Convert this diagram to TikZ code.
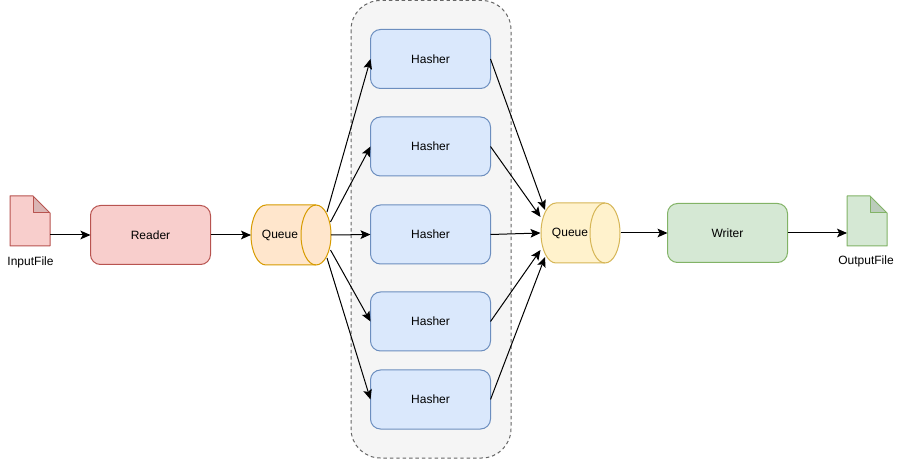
\documentclass[tikz,border=0pt]{standalone}
\usepackage{fontspec}
\setmainfont{Liberation Sans}
\usetikzlibrary{arrows.meta,calc}
\definecolor{redf}{HTML}{F8CECC}\definecolor{redd}{HTML}{B85450}
\definecolor{bluef}{HTML}{DAE8FC}\definecolor{blued}{HTML}{6C8EBF}
\definecolor{orf}{HTML}{FFE6CC}\definecolor{ord}{HTML}{D79B00}
\definecolor{yelf}{HTML}{FFF2CC}\definecolor{yeld}{HTML}{D6B656}
\definecolor{grnf}{HTML}{D5E8D4}\definecolor{grnd}{HTML}{82B366}
\definecolor{grpf}{HTML}{F5F5F5}\definecolor{grpd}{HTML}{666666}
\tikzset{
  x=0.75pt,y=-0.75pt,
  every node/.style={font=\fontsize{9pt}{11pt}\selectfont,text=black,inner sep=0pt,outer sep=0pt},
  box/.style={draw,rounded corners=7.5pt,minimum width=90pt,minimum height=44.25pt,line width=0.75pt},
  hasherbox/.style={box,fill=bluef,draw=blued},
  link/.style={draw=black,line width=0.75pt,-{Stealth[length=7.5pt,width=6.5pt,inset=1.6pt]}},
  hold/.style={minimum width=60pt,minimum height=45pt},
}
\newcommand{\docshape}[3]{% x, fill, stroke
  \fill[#2] (#1,196) -- ++(23,0) -- ++(17,17) -- (#1+40,246) -- (#1,246) -- cycle;
  \fill[#2!88!black] (#1+23,196) -- (#1+23,213) -- (#1+40,213) -- cycle;
  \draw[#3,line width=0.75pt,line join=round] (#1,196) -- ++(23,0) -- ++(17,17) -- (#1+40,246) -- (#1,246) -- cycle;
  \draw[#3,line width=0.75pt,line join=round] (#1+23,196) -- (#1+23,213) -- (#1+40,213);
}
\newcommand{\cyl}[5]{% left, top, right, fill, stroke
  \draw[fill=#4,draw=#5,line width=0.75pt] (#3-15,#2) .. controls (#3-6.7,#2) and (#3,#2+13.4) .. (#3,#2+30)
    .. controls (#3,#2+46.6) and (#3-6.7,#2+60) .. (#3-15,#2+60)
    -- (#1+15,#2+60) .. controls (#1+6.7,#2+60) and (#1,#2+46.6) .. (#1,#2+30)
    .. controls (#1,#2+13.4) and (#1+6.7,#2) .. (#1+15,#2) -- cycle;
  \draw[#5,line width=0.75pt] (#3-15,#2) .. controls (#3-23.3,#2) and (#3-30,#2+13.4) .. (#3-30,#2+30)
    .. controls (#3-30,#2+46.6) and (#3-23.3,#2+60) .. (#3-15,#2+60);
}
\begin{document}
\begin{tikzpicture}
\useasboundingbox (0,0) rectangle (899,459);
\fill[white] (0,0) rectangle (899,459);
\draw[fill=grpf,draw=grpd,line width=0.75pt,dash pattern=on 2.6pt off 2.2pt,rounded corners=22pt] (351,0.5) rectangle (511,458);
\docshape{10}{redf}{redd}
\docshape{847}{grnf}{grnd}
\cyl{251}{205}{331}{orf}{ord}
\cyl{541}{203}{620}{yelf}{yeld}
\coordinate (inputdoc) at (50,235);
\coordinate (outputdoc) at (847,233);
\node (inlabel) at (30.5,262) {InputFile};
\node (outlabel) at (866,261) {OutputFile};
\node[box,fill=redf,draw=redd] (reader) at (150.5,235) {Reader};
\node[box,fill=grnf,draw=grnd] (writer) at (727.5,233) {Writer};
\node[hasherbox] (h1) at (430.5,59) {Hasher};
\node[hasherbox] (h2) at (430.5,146.5) {Hasher};
\node[hasherbox] (h3) at (430.5,234.5) {Hasher};
\node[hasherbox] (h4) at (430.5,321.5) {Hasher};
\node[hasherbox] (h5) at (430.5,399.5) {Hasher};
\node[hold] (q1) at (291,235) {};
\node[hold] (q2) at (580.5,233) {};
\node at (280,235) {Queue};
\node at (570,233) {Queue};
\draw[link] (inputdoc) -- (reader.west);
\draw[link] (reader.east) -- (q1.west);
\draw[link] ($(q1.center)+(36,-23)$) -- (h1.west);
\draw[link] ($(q1.center)+(39.5,-13)$) -- (h2.west);
\draw[link] (q1.east) -- (h3.west);
\draw[link] ($(q1.center)+(39.5,15)$) -- (h4.west);
\draw[link] ($(q1.center)+(36,23)$) -- (h5.west);
\draw[link] (h1.east) -- ($(q2.center)+(-35.5,-23)$);
\draw[link] (h2.east) -- ($(q2.center)+(-40,-16)$);
\draw[link] (h3.east) -- (q2.west);
\draw[link] (h4.east) -- ($(q2.center)+(-40,17)$);
\draw[link] (h5.east) -- ($(q2.center)+(-35.5,24)$);
\draw[link] (q2.east) -- (writer.west);
\draw[link] (writer.east) -- (outputdoc);
\end{tikzpicture}
\end{document}
